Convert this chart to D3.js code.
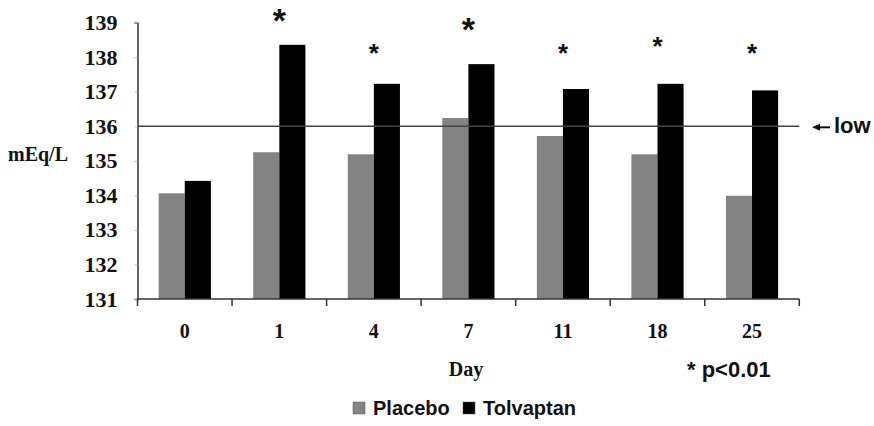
<!DOCTYPE html>
<html>
<head>
<meta charset="utf-8">
<script src="https://cdn.jsdelivr.net/npm/d3@7"></script>
<style>
  body { margin: 0; background: #fff; }
  svg { display: block; }
</style>
</head>
<body>
<svg width="874" height="426"></svg>
<script>
// values (mEq/L)
const days = ['0', '1', '4', '7', '11', '18', '25'];
const placebo = [134.06, 135.25, 135.19, 136.24, 135.72, 135.19, 133.99];
const tolvaptan = [134.42, 138.36, 137.23, 137.8, 137.08, 137.23, 137.04];
const starLevel = [null, 139.28, 138.28, 139.03, 138.28, 138.5, 138.27];
const starBig = [false, true, false, true, false, false, false];
const yTicks = [131, 132, 133, 134, 135, 136, 137, 138, 139];
const lowLine = 136;

const serif = '"Liberation Serif", "Times New Roman", serif';
const sans = '"Liberation Sans", Arial, sans-serif';

const margin = {top: 22.7, right: 74.7, left: 137.5, bottom: 127};
const width = 874 - margin.left - margin.right;
const height = 426 - margin.top - margin.bottom;

const svg = d3.select('svg');
const g = svg.append('g')
  .attr('transform', `translate(${margin.left},${margin.top})`);

const xscale = d3.scaleBand()
  .domain(days)
  .range([0, width]);

const yscale = d3.scaleLinear()
  .domain([131, 139])
  .range([height, 0]);

const barW = xscale.bandwidth() * 0.276;

// bars
const groups = g.selectAll('.day')
  .data(days)
  .enter().append('g')
  .attr('transform', d => `translate(${xscale(d) + xscale.bandwidth() / 2},0)`);

groups.append('rect')
  .attr('x', -barW)
  .attr('width', barW)
  .attr('y', (d, i) => yscale(placebo[i]))
  .attr('height', (d, i) => height - yscale(placebo[i]))
  .attr('fill', '#838383');

groups.append('rect')
  .attr('x', 0)
  .attr('width', barW)
  .attr('y', (d, i) => yscale(tolvaptan[i]))
  .attr('height', (d, i) => height - yscale(tolvaptan[i]))
  .attr('fill', '#000');

// significance stars
groups.filter((d, i) => starLevel[i] !== null)
  .append('text')
  .text('*')
  .attr('text-anchor', 'middle')
  .style('font-family', sans)
  .style('font-weight', 'bold')
  .style('font-size', d => (starBig[days.indexOf(d)] ? 34 : 26) + 'px')
  .attr('y', d => {
    const i = days.indexOf(d);
    const fs = starBig[i] ? 34 : 26;
    return yscale(starLevel[i]) + 0.56 * fs;
  })
  .attr('fill', '#111');

// reference line at lower limit
g.append('line')
  .attr('x1', 0)
  .attr('x2', width)
  .attr('y1', yscale(lowLine))
  .attr('y2', yscale(lowLine))
  .attr('stroke', '#444')
  .attr('stroke-width', 1.5);

// y axis
const yAxis = d3.axisLeft(yscale)
  .tickValues(yTicks)
  .tickSize(3)
  .tickPadding(17)
  .tickFormat(d3.format('d'));

const yAxisG = g.append('g').call(yAxis);
yAxisG.select('.domain').attr('stroke', '#333').attr('stroke-width', 1.5);
yAxisG.selectAll('.tick line').attr('stroke', '#bbb');
yAxisG.selectAll('.tick text')
  .style('font-family', serif)
  .style('font-weight', 'bold')
  .style('font-size', '22px')
  .attr('fill', '#111');

// x axis: ticks at band edges, labels in the middle
const xAxisG = g.append('g')
  .attr('transform', `translate(0,${height})`);

xAxisG.append('line')
  .attr('x1', 0).attr('x2', width)
  .attr('stroke', '#333').attr('stroke-width', 1.5);

xAxisG.selectAll('.edge')
  .data(days.concat(['end']))
  .enter().append('line')
  .attr('x1', (d, i) => i * xscale.step())
  .attr('x2', (d, i) => i * xscale.step())
  .attr('y1', 0).attr('y2', 7)
  .attr('stroke', '#333').attr('stroke-width', 1.5);

xAxisG.selectAll('.lab')
  .data(days)
  .enter().append('text')
  .text(d => d)
  .attr('x', d => xscale(d) + xscale.bandwidth() / 2)
  .attr('y', 39)
  .attr('text-anchor', 'middle')
  .style('font-family', serif)
  .style('font-weight', 'bold')
  .style('font-size', '20px')
  .attr('fill', '#111');

// axis titles
svg.append('text')
  .text('mEq/L')
  .attr('x', 8).attr('y', 161)
  .style('font-family', serif)
  .style('font-weight', 'bold')
  .style('font-size', '20px')
  .attr('fill', '#111');

svg.append('text')
  .text('Day')
  .attr('x', 466).attr('y', 376)
  .attr('text-anchor', 'middle')
  .style('font-family', serif)
  .style('font-weight', 'bold')
  .style('font-size', '20px')
  .attr('fill', '#111');

svg.append('text')
  .text('* p<0.01')
  .attr('x', 687).attr('y', 377)
  .style('font-family', sans)
  .style('font-weight', 'bold')
  .style('font-size', '22px')
  .attr('fill', '#111');

// "low" label with arrow
const lowY = margin.top + yscale(lowLine);
svg.append('line')
  .attr('x1', 818).attr('x2', 830)
  .attr('y1', lowY + 1).attr('y2', lowY + 1)
  .attr('stroke', '#111').attr('stroke-width', 2);
svg.append('path')
  .attr('d', `M812,${lowY + 1}L820,${lowY - 2.5}L820,${lowY + 4.5}Z`)
  .attr('fill', '#111');
svg.append('text')
  .text('low')
  .attr('x', 834).attr('y', lowY + 7)
  .style('font-family', sans)
  .style('font-weight', 'bold')
  .style('font-size', '22px')
  .attr('fill', '#111');

// legend
const legend = [
  {name: 'Placebo', color: '#838383', x: 353},
  {name: 'Tolvaptan', color: '#000', x: 463}
];
const lg = svg.selectAll('.legend')
  .data(legend)
  .enter().append('g')
  .attr('transform', d => `translate(${d.x},402)`);
lg.append('rect')
  .attr('width', 12).attr('height', 12)
  .attr('fill', d => d.color)
  .attr('stroke', '#555').attr('stroke-width', 0.5);
lg.append('text')
  .text(d => d.name)
  .attr('x', 20).attr('y', 13)
  .style('font-family', sans)
  .style('font-weight', 'bold')
  .style('font-size', '20px')
  .attr('fill', '#111');
</script>
</body>
</html>
